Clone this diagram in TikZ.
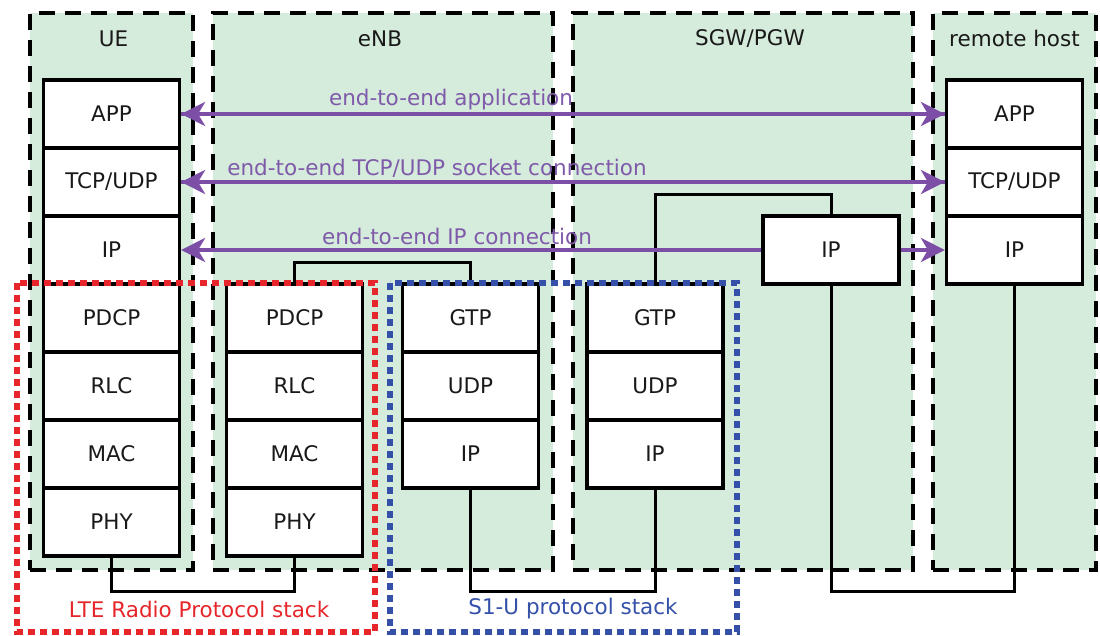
\documentclass[tikz,border=0pt]{standalone}
\usepackage{fontspec}
\setmainfont{DejaVu Sans}
\usetikzlibrary{arrows.meta}
\definecolor{zonegreen}{RGB}{213,235,219}
\definecolor{e2epurple}{RGB}{124,78,166}
\definecolor{e2etext}{RGB}{128,90,170}
\definecolor{lred}{RGB}{230,38,42}
\definecolor{sblue}{RGB}{52,80,168}
\tikzset{
  txt/.style={font=\fontsize{21.5}{25}\selectfont},
  zone/.style={draw=black, fill=zonegreen, line width=3.3pt, dash pattern=on 16pt off 10pt,
    minimum width=#1, minimum height=557pt, inner sep=0pt},
  zonetitle/.style={txt, text=black!90},
  layer/.style={txt, draw=black, fill=white, line width=3.2pt, minimum width=136pt,
    minimum height=68pt, inner sep=0pt, text=black!90},
  link/.style={draw=black, line width=3pt},
  e2e/.style={draw=e2epurple, line width=3.6pt},
  tip/.style={-{Stealth[length=24pt,width=24pt,inset=7pt]}},
  e2elabel/.style={txt, text=e2etext},
  stackbox/.style={line width=6.5pt, dash pattern=on 7pt off 5pt},
  stacklabel/.style={txt}
}
\begin{document}
\begin{tikzpicture}[x=1pt, y=-1pt]
\useasboundingbox (0,0) rectangle (1100,636);

% network element zones
\node[zone=163pt] (ue)  at (111.5,291.5) {};
\node[zone=340pt] (enb) at (383,291.5) {};
\node[zone=340pt] (sgw) at (743,291.5) {};
\node[zone=163pt] (rh)  at (1014.5,291.5) {};
\node[zonetitle] (uet)  at ([xshift=2pt,yshift=-27pt]ue.north) {UE};
\node[zonetitle] (enbt) at ([xshift=-3pt,yshift=-27pt]enb.north) {eNB};
\node[zonetitle] (sgwt) at ([xshift=7pt,yshift=-27pt]sgw.north) {SGW/PGW};
\node[zonetitle] (rht)  at ([yshift=-27pt]rh.north) {remote host};

% UE stack
\node[layer] (ueapp)  at (111.5,114) {APP};
\node[layer] (uetcp)  at (111.5,182) {TCP/UDP};
\node[layer] (ueip)   at (111.5,250) {IP};
\node[layer] (uepdcp) at (111.5,318) {PDCP};
\node[layer] (uerlc)  at (111.5,386) {RLC};
\node[layer] (uemac)  at (111.5,454) {MAC};
\node[layer] (uephy)  at (111.5,522) {PHY};

% eNB radio stack
\node[layer] (enbpdcp) at (294.5,318) {PDCP};
\node[layer] (enbrlc)  at (294.5,386) {RLC};
\node[layer] (enbmac)  at (294.5,454) {MAC};
\node[layer] (enbphy)  at (294.5,522) {PHY};

% eNB S1-U stack
\node[layer] (enbgtp) at (470.5,318) {GTP};
\node[layer] (enbudp) at (470.5,386) {UDP};
\node[layer] (enbip)  at (470.5,454) {IP};

% SGW/PGW stacks
\node[layer] (sgwgtp) at (655,318) {GTP};
\node[layer] (sgwudp) at (655,386) {UDP};
\node[layer] (sgwip)  at (655,454) {IP};
\node[layer] (sgwtop) at (831,250) {IP};

% remote host stack
\node[layer] (rhapp) at (1014.5,114) {APP};
\node[layer] (rhtcp) at (1014.5,182) {TCP/UDP};
\node[layer] (rhip)  at (1014.5,250) {IP};

% links between peer layers
\draw[link] (uephy.south) -- ++(0,34) -| (enbphy.south);
\draw[link] (enbpdcp.north) -- ++(0,-20) -| (enbgtp.north);
\draw[link] (enbip.south) -- ++(0,102) -| (sgwip.south);
\draw[link] (sgwgtp.north) -- ++(0,-88) -| (sgwtop.north);
\draw[link] (sgwtop.south) -- ++(0,306) -| (rhip.south);

% end-to-end connections
\draw[e2e, tip] (rhapp.west) -- (ueapp.east);
\draw[e2e, tip] (ueapp.east) -- (rhapp.west);
\draw[e2e, tip] (rhtcp.west) -- (uetcp.east);
\draw[e2e, tip] (uetcp.east) -- (rhtcp.west);
\draw[e2e, tip] (sgwtop.west) -- (ueip.east);
\draw[e2e, tip] (sgwtop.east) -- (rhip.west);
\node[e2elabel] (lapp) at (451,100) {end-to-end application};
\node[e2elabel] (ltcp) at (437,168) {end-to-end TCP/UDP socket connection};
\node[e2elabel] (lip)  at (457,236) {end-to-end IP connection};

% protocol stack groupings
\draw[stackbox, draw=lred] (17,283) rectangle (375,632);
\draw[stackbox, draw=sblue] (390,283) rectangle (737,632);
\node[stacklabel, text=lred] (lte) at (199,609) {LTE Radio Protocol stack};
\node[stacklabel, text=sblue] (s1u) at (573,609) {S1-U protocol stack};
\end{tikzpicture}
\end{document}
